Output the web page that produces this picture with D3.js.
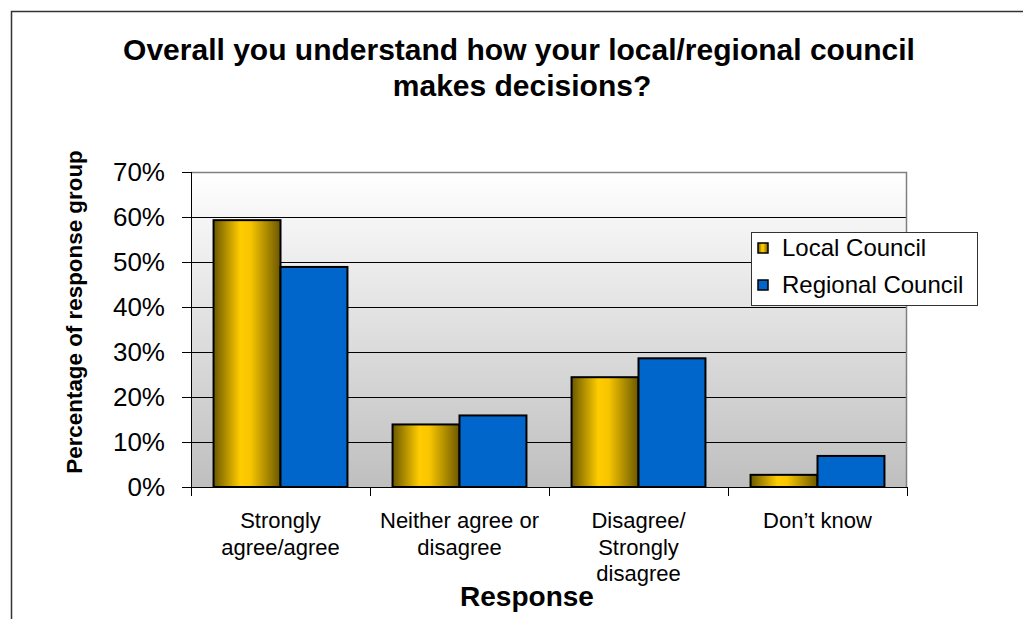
<!DOCTYPE html>
<html>
<head>
<meta charset="utf-8">
<script src="https://cdn.jsdelivr.net/npm/d3@7"></script>
<style>
  body { margin: 0; background: #fff; }
  svg { font-family: "Liberation Sans", Arial, sans-serif; }
</style>
</head>
<body>
<svg id="chart" width="1023" height="619"></svg>
<script>
var categories = [['Strongly', 'agree/agree'], ['Neither agree or', 'disagree'], ['Disagree/', 'Strongly', 'disagree'], ['Don\u2019t know']];
var seriesNames = ['Local Council', 'Regional Council'];
var localValues = [0.593, 0.139, 0.244, 0.027];
var regionalValues = [0.489, 0.159, 0.286, 0.069];
var yTicks = [0, 0.1, 0.2, 0.3, 0.4, 0.5, 0.6, 0.7];

var svg = d3.select('#chart');
var margin = { left: 191, right: 116, top: 172, bottom: 132 };
var width = 1023 - margin.left - margin.right;
var height = 619 - margin.top - margin.bottom;

var defs = svg.append('defs');
var bg = defs.append('linearGradient').attr('id', 'bg').attr('x1', 0).attr('y1', 0).attr('x2', 0).attr('y2', 1);
bg.append('stop').attr('offset', '0%').attr('stop-color', '#ffffff');
bg.append('stop').attr('offset', '100%').attr('stop-color', '#bfbfbf');

var gold = defs.append('linearGradient').attr('id', 'gold').attr('x1', 0).attr('y1', 0).attr('x2', 1).attr('y2', 0);
gold.append('stop').attr('offset', '0%').attr('stop-color', '#6b5800');
gold.append('stop').attr('offset', '40%').attr('stop-color', '#ffcc00');
gold.append('stop').attr('offset', '55%').attr('stop-color', '#f8c600');
gold.append('stop').attr('offset', '100%').attr('stop-color', '#6b5800');

// outer chart border
svg.append('path').attr('d', 'M11.5,619 V11.5 H1023').attr('fill', 'none').attr('stroke', '#333').attr('stroke-width', 1.5);

var title = svg.append('text').attr('text-anchor', 'middle').attr('font-weight', 'bold').attr('font-size', 30).attr('fill', '#000');
title.append('tspan').attr('x', 519).attr('y', 60).text('Overall you understand how your local/regional council');
title.append('tspan').attr('x', 522).attr('y', 96).text('makes decisions?');

var g = svg.append('g').attr('transform', 'translate(' + margin.left + ',' + margin.top + ')');

var x0 = d3.scaleBand().domain(d3.range(categories.length)).range([0, width]).paddingInner(0).paddingOuter(0);
var x1 = d3.scaleBand().domain([0, 1]).range([x0.bandwidth() * 0.126, x0.bandwidth() * 0.874]);
var y = d3.scaleLinear().domain([0, 0.7]).range([height, 0]);

g.append('rect').attr('width', width).attr('height', height).attr('fill', 'url(#bg)');

// gridlines
g.selectAll('.grid').data(yTicks.slice(1, -1)).enter().append('line')
  .attr('x1', 0).attr('x2', width)
  .attr('y1', function (d) { return Math.round(y(d)) + 0.5; })
  .attr('y2', function (d) { return Math.round(y(d)) + 0.5; })
  .attr('stroke', '#000').attr('stroke-width', 1);

// plot border top/right
g.append('path').attr('d', 'M0,0.5 H' + (width - 0.5) + ' V' + height).attr('fill', 'none').attr('stroke', '#808080').attr('stroke-width', 1.5);

var groups = g.selectAll('.cat').data(categories).enter().append('g')
  .attr('transform', function (d, i) { return 'translate(' + x0(i) + ',0)'; });

groups.append('rect')
  .attr('x', x1(0)).attr('width', x1.bandwidth())
  .attr('y', function (d, i) { return y(localValues[i]); })
  .attr('height', function (d, i) { return height - y(localValues[i]); })
  .attr('fill', 'url(#gold)').attr('stroke', '#000').attr('stroke-width', 2);

groups.append('rect')
  .attr('x', x1(1)).attr('width', x1.bandwidth())
  .attr('y', function (d, i) { return y(regionalValues[i]); })
  .attr('height', function (d, i) { return height - y(regionalValues[i]); })
  .attr('fill', '#0066cc').attr('stroke', '#000').attr('stroke-width', 2);

// y axis
var yAxis = g.append('g').call(d3.axisLeft(y).tickValues(yTicks).tickFormat(d3.format('.0%')).tickSize(9).tickPadding(17));
yAxis.select('.domain').attr('stroke', '#000').attr('d', 'M0.5,0V' + height);
yAxis.selectAll('.tick line').attr('stroke', '#000');
yAxis.selectAll('.tick text').attr('font-size', 26).attr('fill', '#000').attr('font-family', '"Liberation Sans", Arial, sans-serif');

// x axis
var xAxis = g.append('g').attr('transform', 'translate(0,' + height + ')');
xAxis.append('line').attr('x1', 0).attr('x2', width).attr('y1', 0.5).attr('y2', 0.5).attr('stroke', '#000');
xAxis.selectAll('.xt').data(d3.range(categories.length + 1)).enter().append('line')
  .attr('x1', function (d) { return Math.round(d * x0.step()) + 0.5; })
  .attr('x2', function (d) { return Math.round(d * x0.step()) + 0.5; })
  .attr('y1', 0).attr('y2', 9).attr('stroke', '#000');

var xl = xAxis.selectAll('.xl').data(categories).enter().append('text')
  .attr('text-anchor', 'middle').attr('font-size', 22).attr('fill', '#000');
xl.each(function (d, i) {
  var t = d3.select(this);
  d.forEach(function (line, k) {
    t.append('tspan').attr('x', x0(i) + x0.bandwidth() / 2).attr('y', 41 + k * 26.5).text(line);
  });
});

svg.append('text').attr('x', 527).attr('y', 606).attr('text-anchor', 'middle')
  .attr('font-weight', 'bold').attr('font-size', 28).text('Response');

svg.append('text').attr('transform', 'translate(82,312) rotate(-90)').attr('text-anchor', 'middle')
  .attr('font-weight', 'bold').attr('font-size', 22.4).text('Percentage of response group');

// legend
var legend = svg.append('g').attr('transform', 'translate(751,232)');
legend.append('rect').attr('x', 0.5).attr('y', 0.5).attr('width', 226).attr('height', 73).attr('fill', '#fff').attr('stroke', '#333').attr('stroke-width', 1);
var fills = ['url(#gold)', '#0066cc'];
seriesNames.forEach(function (name, i) {
  var row = legend.append('g').attr('transform', 'translate(7,' + (11 + i * 37) + ')');
  row.append('rect').attr('width', 10).attr('height', 10).attr('fill', fills[i]).attr('stroke', '#000').attr('stroke-width', 1.5);
  row.append('text').attr('x', 24).attr('y', 13).attr('font-size', 24).attr('fill', '#000').text(name);
});
</script>
</body>
</html>
